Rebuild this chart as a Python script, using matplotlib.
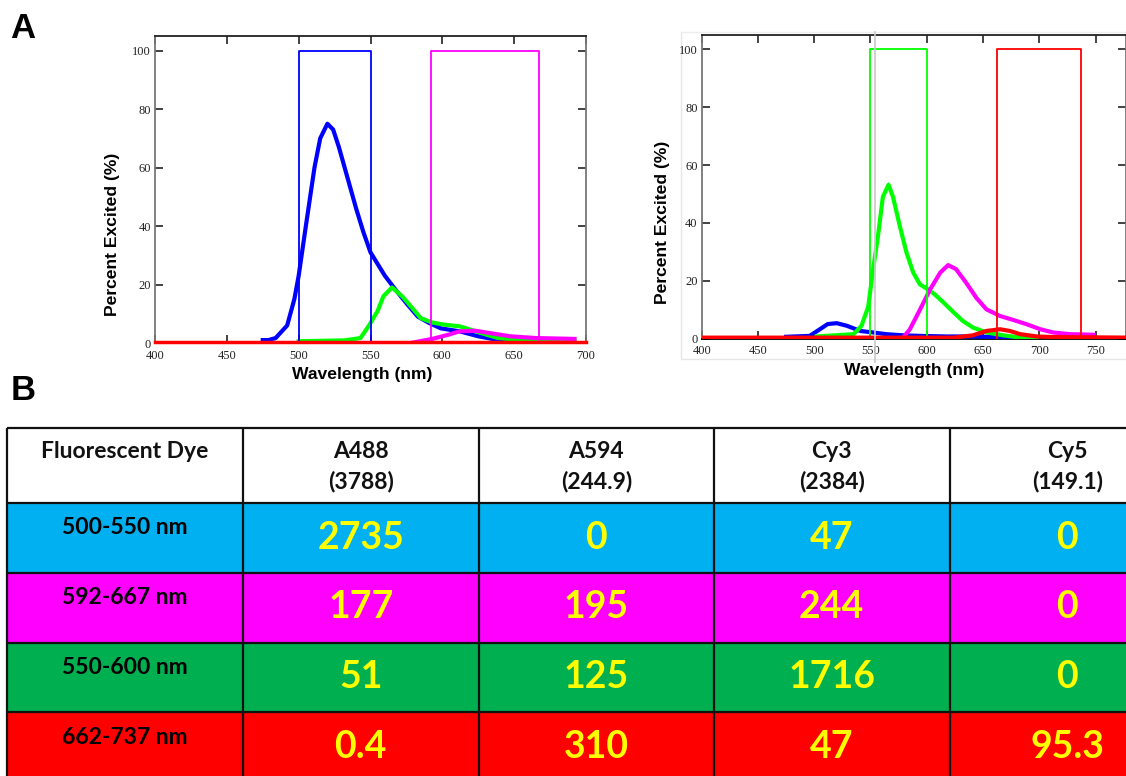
import matplotlib
matplotlib.use("Agg")
import matplotlib.pyplot as plt
from matplotlib.patches import Rectangle
from matplotlib.ticker import MultipleLocator

# ---------------- data: panel A, left chart ----------------
L_blue_x = [475, 479, 484, 492, 497, 500, 505, 511, 515, 520, 524, 528, 532, 536, 540, 545, 550, 555, 560, 567, 575, 583, 591, 599, 612, 625, 639, 652]
L_blue_y = [1, 1, 1.7, 6, 15, 23, 40, 60, 70, 75, 73, 67, 60, 53, 46, 38, 31, 27, 23, 18.5, 13.6, 9, 6.8, 5, 4, 2.3, 1, 0.3]
L_green_x = [500, 532, 543, 549, 555, 559, 565, 572, 579, 585, 593, 601, 612, 620, 631, 639, 652, 665, 692]
L_green_y = [0.6, 0.9, 1.7, 6, 11, 16, 19, 16, 12, 8.5, 7, 6.3, 5.7, 4.5, 2.8, 1.7, 1.1, 0.9, 0.7]
L_mag_x = [580, 593, 604, 612, 623, 633, 647, 665, 692]
L_mag_y = [0.2, 1.4, 2.8, 4, 4.2, 3.4, 2.3, 1.7, 1.4]
L_red_x = [400, 700]
L_red_y = [0.3, 0.3]
L_filters = [(500, 550, "#0000ff"), (592, 667, "#ff00ff")]

# ---------------- data: panel A, right chart ----------------
R_blue_x = [475, 496, 505, 512, 520, 529, 541, 552, 564, 579, 594, 618, 641, 653, 683]
R_blue_y = [0.6, 0.9, 3.2, 5, 5.3, 4.4, 2.6, 2.1, 1.5, 1.1, 0.9, 0.7, 0.7, 0.6, 0.2]
R_green_x = [502, 535, 542, 548, 552, 557, 561, 566, 570, 576, 582, 588, 594, 601, 607, 615, 624, 632, 641, 653, 668, 683, 698]
R_green_y = [0.7, 1.5, 4.4, 11, 23, 36.5, 49, 53.2, 49, 39, 29.7, 22.8, 18.7, 17, 15.3, 12.4, 9, 6.1, 3.8, 2.1, 1.1, 0.3, 0]
R_mag_x = [579, 585, 594, 603, 612, 619, 626, 635, 644, 653, 665, 677, 689, 701, 712, 727, 748]
R_mag_y = [0.3, 3.2, 10, 17, 22.8, 25.4, 24, 19.3, 14.1, 10.1, 7.8, 6.4, 4.9, 3.2, 2.1, 1.5, 1.3]
R_red_x = [400, 624, 641, 653, 665, 674, 683, 698, 712, 780]
R_red_y = [0.3, 0.3, 1.1, 2.6, 3.2, 2.6, 1.5, 0.7, 0.5, 0.3]
R_filters = [(550, 600, "#00ff00"), (662, 737, "#ff0000")]

# ---------------- data: panel B table ----------------
col_headers = ["Fluorescent Dye", "A488\n(3788)", "A594\n(244.9)", "Cy3\n(2384)", "Cy5\n(149.1)"]
row_labels = ["500-550 nm", "592-667 nm", "550-600 nm", "662-737 nm"]
values = [["2735", "0", "47", "0"],
          ["177", "195", "244", "0"],
          ["51", "125", "1716", "0"],
          ["0.4", "310", "47", "95.3"]]
row_colors = ["#00b0f0", "#ff00ff", "#00b050", "#ff0000"]

W, H = 1126, 776
fig = plt.figure(figsize=(W / 100, H / 100), dpi=100)

# overlay axes in pixel coordinates
ov = fig.add_axes([0, 0, 1, 1], zorder=0)
ov.set_xlim(0, W)
ov.set_ylim(H, 0)
ov.axis("off")


def px_axes(x0, y0, x1, y1, z=2):
    return fig.add_axes([x0 / W, 1 - y1 / H, (x1 - x0) / W, (y1 - y0) / H], zorder=z)


def style_axes(ax, xmax):
    ax.set_xlim(400, xmax)
    ax.set_ylim(0, 105)
    ax.xaxis.set_major_locator(MultipleLocator(50))
    ax.yaxis.set_major_locator(MultipleLocator(20))
    ax.tick_params(direction="in", length=6, width=1.2, top=True, right=True,
                   labelsize=9, colors="#222222")
    ax.tick_params(axis="x", pad=5)
    ax.tick_params(axis="y", pad=3)
    for lab in ax.get_xticklabels() + ax.get_yticklabels():
        lab.set_fontfamily("Liberation Serif")
    for s in ["left", "right"]:
        ax.spines[s].set_color("#777777")
    ax.spines["top"].set_color("#222222")
    ax.spines["bottom"].set_color("#000000")
    for s in ax.spines.values():
        s.set_linewidth(1.3)


def draw_filters(ax, filters):
    for lo, hi, c in filters:
        ax.plot([lo, lo, hi, hi], [0, 100, 100, 0], color=c, lw=1.3, zorder=4)


lab_font = dict(family="Liberation Sans", weight="bold", fontsize=12.6, color="#000000")

# left chart
axL = px_axes(155, 36, 586, 343)
style_axes(axL, 700)
draw_filters(axL, L_filters)
axL.plot(L_blue_x, L_blue_y, color="#0000ff", lw=3, zorder=3)
axL.plot(L_green_x, L_green_y, color="#00ff00", lw=3, zorder=3)
axL.plot(L_mag_x, L_mag_y, color="#ff00ff", lw=3, zorder=3)
axL.plot(L_red_x, L_red_y, color="#ff0000", lw=2.5, zorder=5, clip_on=False)
ov.text(362, 375, "Wavelength (nm)", ha="center", va="center", **lab_font)
ov.text(113, 234, "Percent Excited (%)", ha="center", va="center", rotation=90, **lab_font)

# right chart: faint frame + stray grey line
ov.plot([680.5, 680.5, W], [31.5, 359, 359], color="#e6e6e6", lw=1)
ov.plot([680.5, W], [31.5, 31.5], color="#eeeeee", lw=1)

axR = px_axes(701.7, 35, 1126.5, 338.5)
style_axes(axR, 777.5)
draw_filters(axR, R_filters)
axR.plot(R_blue_x, R_blue_y, color="#0000ff", lw=3, zorder=3)
axR.plot(R_green_x, R_green_y, color="#00ff00", lw=3, zorder=3)
axR.plot(R_mag_x, R_mag_y, color="#ff00ff", lw=3, zorder=3)
axR.plot(R_red_x, R_red_y, color="#ff0000", lw=3, zorder=5)
ov.text(914, 370, "Wavelength (nm)", ha="center", va="center", **lab_font)
ov.text(663, 222, "Percent Excited (%)", ha="center", va="center", rotation=90, **lab_font)

ov2 = fig.add_axes([0, 0, 1, 1], zorder=10)
ov2.set_xlim(0, W)
ov2.set_ylim(H, 0)
ov2.axis("off")
ov2.patch.set_alpha(0)
ov2.plot([874.5, 874.5], [31.5, 362], color="#c8c8c8", lw=1.2)

# panel letters
ov.text(10, 28, "A", fontsize=25, fontweight="bold", family="Liberation Sans", va="center", ha="left")
ov.text(11, 391, "B", fontsize=25, fontweight="bold", family="Liberation Sans", va="center", ha="left")

# table
col_edges = [7, 243, 478.5, 714, 949.5, 1185]
row_edges = [428, 502.7, 572.5, 642.5, 712.3, 782.3]
tfont = "Lato"
ov.add_patch(Rectangle((col_edges[0], row_edges[0]), col_edges[-1] - col_edges[0],
                       row_edges[1] - row_edges[0], facecolor="white", edgecolor="none"))
for i, rc in enumerate(row_colors):
    ov.add_patch(Rectangle((col_edges[0], row_edges[i + 1]), col_edges[-1] - col_edges[0],
                           row_edges[i + 2] - row_edges[i + 1], facecolor=rc, edgecolor="none"))
for xe in col_edges:
    ov.plot([xe, xe], [row_edges[0], row_edges[-1]], color="#111111", lw=1.6, solid_capstyle="butt")
for ye in row_edges:
    ov.plot([col_edges[0], col_edges[-1]], [ye, ye], color="#111111", lw=1.6, solid_capstyle="butt")

for j, h in enumerate(col_headers):
    cx = (col_edges[j] + col_edges[j + 1]) / 2
    for k, line in enumerate(h.split("\n")):
        ov.text(cx, 451 + 31 * k, line, ha="center", va="center", fontsize=16.5,
                fontweight="bold", family=tfont, color="#111111")

for i, rl in enumerate(row_labels):
    top = row_edges[i + 1]
    cx = (col_edges[0] + col_edges[1]) / 2
    ov.text(cx, top + 25, rl, ha="center", va="center", fontsize=16.5, fontweight="bold",
            family=tfont, color="#000000")
    for j, v in enumerate(values[i]):
        cxv = (col_edges[j + 1] + col_edges[j + 2]) / 2
        ov.text(cxv, top + 35, v, ha="center", va="center", fontsize=27, fontweight="bold",
                family=tfont, color="#ffff00")

fig.savefig("out.png", dpi=100)
